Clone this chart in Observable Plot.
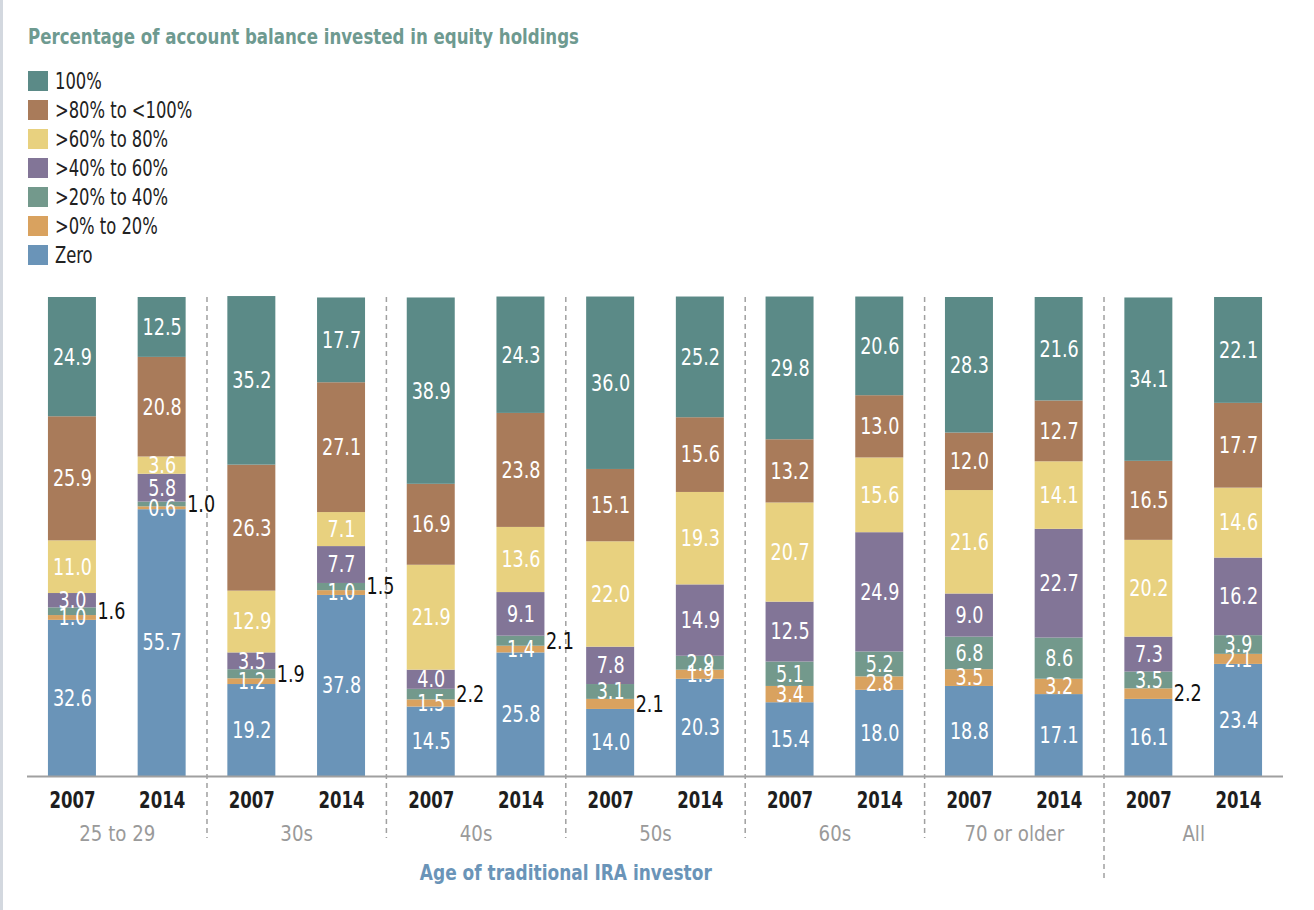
<!DOCTYPE html>
<html><head><meta charset="utf-8">
<script src="https://cdn.jsdelivr.net/npm/d3@7"></script>
<script src="https://cdn.jsdelivr.net/npm/@observablehq/plot@0.6"></script>
<style>
html,body{margin:0;padding:0;background:#fff;}
body{width:1314px;height:910px;position:relative;overflow:hidden;font-family:"DejaVu Sans Condensed","DejaVu Sans",sans-serif;}
#edge{position:absolute;left:0;top:0;width:3px;height:910px;background:#d3d8df;}
#title{position:absolute;left:28px;top:26px;font-size:21px;font-weight:bold;color:#6e9a90;line-height:22px;white-space:nowrap;transform:scaleX(0.88);transform-origin:0 50%;}
#legend{position:absolute;left:28px;top:71px;}
.row{display:flex;align-items:center;height:20px;margin-bottom:9px;}
.sw{width:20px;height:20px;margin-right:7px;flex:none;}
.lab{font-size:23px;color:#222;line-height:20px;white-space:nowrap;display:inline-block;transform:scaleX(0.79);transform-origin:0 50%;}
#chart{position:absolute;left:0;top:270px;}
</style></head>
<body>
<div id="edge"></div>
<div id="title">Percentage of account balance invested in equity holdings</div>
<div id="legend"></div>
<div id="chart"></div>
<script>
const groups = ["25 to 29", "30s", "40s", "50s", "60s", "70 or older", "All"];
const years = ["2007", "2014"];
const categories = ["Zero", ">0% to 20%", ">20% to 40%", ">40% to 60%", ">60% to 80%", ">80% to <100%", "100%"];
const colors = ["#6a94b8", "#d9a25f", "#73998c", "#827597", "#e8d17f", "#a97b5a", "#5b8a87"];

// values per bar: 25-29 07, 25-29 14, 30s 07, 30s 14, 40s 07, 40s 14, 50s 07, 50s 14, 60s 07, 60s 14, 70+ 07, 70+ 14, All 07, All 14
const zero     = [32.6, 55.7, 19.2, 37.8, 14.5, 25.8, 14.0, 20.3, 15.4, 18.0, 18.8, 17.1, 16.1, 23.4];
const p0to20   = [1.0, 0.6, 1.2, 1.0, 1.5, 1.4, 2.1, 1.9, 3.4, 2.8, 3.5, 3.2, 2.2, 2.1];
const p20to40  = [1.6, 1.0, 1.9, 1.5, 2.2, 2.1, 3.1, 2.9, 5.1, 5.2, 6.8, 8.6, 3.5, 3.9];
const p40to60  = [3.0, 5.8, 3.5, 7.7, 4.0, 9.1, 7.8, 14.9, 12.5, 24.9, 9.0, 22.7, 7.3, 16.2];
const p60to80  = [11.0, 3.6, 12.9, 7.1, 21.9, 13.6, 22.0, 19.3, 20.7, 15.6, 21.6, 14.1, 20.2, 14.6];
const p80to100 = [25.9, 20.8, 26.3, 27.1, 16.9, 23.8, 15.1, 15.6, 13.2, 13.0, 12.0, 12.7, 16.5, 17.7];
const p100     = [24.9, 12.5, 35.2, 17.7, 38.9, 24.3, 36.0, 25.2, 29.8, 20.6, 28.3, 21.6, 34.1, 22.1];
// which segment's label sits outside the bar (null = none)
const outsideLabel = [">20% to 40%", ">20% to 40%", ">20% to 40%", ">20% to 40%", ">20% to 40%", ">20% to 40%",
  ">0% to 20%", null, null, null, null, null, ">0% to 20%", null];
const axisTitle = "Age of traditional IRA investor";

const series = [zero, p0to20, p20to40, p40to60, p60to80, p80to100, p100];
const keys = groups.flatMap(g => years.map(y => g + "|" + y));

const table = [];
keys.forEach((key, i) => {
  let acc = 0;
  categories.forEach((cat, j) => {
    const v = series[j][i];
    table.push({key, cat, value: v, y1: acc, y2: acc + v, mid: acc + v / 2,
      outside: outsideLabel[i] === cat, label: v.toFixed(1)});
    acc += v;
  });
});

// legend
const legend = document.getElementById("legend");
categories.slice().reverse().forEach(cat => {
  const row = document.createElement("div"); row.className = "row";
  const sw = document.createElement("div"); sw.className = "sw";
  sw.style.background = colors[categories.indexOf(cat)];
  const lab = document.createElement("div"); lab.className = "lab"; lab.textContent = cat;
  row.append(sw, lab); legend.append(row);
});

const W = 1314, H = 640, mL = 27, mR = 31, mT = 27, mB = 134;
const pIn = 0.465, pOut = 0.2335;
const step = (W - mL - mR) / (keys.length - pIn + 2 * pOut);
const bw = step * (1 - pIn);
const font = '"DejaVu Sans Condensed","DejaVu Sans",sans-serif';

const sepKeys = groups.slice(0, 5).map(g => g + "|2014");
const lastSep = [groups[5] + "|2014"];

const chart = Plot.plot({
  width: W, height: H,
  marginTop: mT, marginBottom: mB, marginLeft: mL, marginRight: mR,
  style: {fontFamily: font, background: "transparent", overflow: "visible"},
  x: {domain: keys, paddingInner: pIn, paddingOuter: pOut, round: false, axis: null},
  y: {domain: [0, 100], axis: null},
  color: {domain: categories, range: colors},
  marks: [
    Plot.ruleX(sepKeys, {x: d => d, dx: step / 2, stroke: "#a0a0a0", strokeWidth: 1.5, strokeDasharray: "5,4", insetBottom: -62}),
    Plot.ruleX(lastSep, {x: d => d, dx: step / 2, stroke: "#a0a0a0", strokeWidth: 1.5, strokeDasharray: "5,4", insetBottom: -104}),
    Plot.barY(table, {x: "key", y1: "y1", y2: "y2", fill: "cat"}),
    Plot.ruleY([0], {stroke: "#a0a0a0", strokeWidth: 2}),
    Plot.text(table.filter(d => !d.outside), {x: "key", y: "mid", text: "label", fill: "white", fontSize: 23}),
    Plot.text(table.filter(d => d.outside), {x: "key", y: "mid", text: "label", fill: "#111", fontSize: 23, textAnchor: "start", dx: bw / 2 + 1}),
    Plot.text(keys, {x: d => d, text: d => d.split("|")[1], frameAnchor: "bottom", dy: 31, fontSize: 23, fontWeight: "bold", fill: "#1e1e1e"}),
    Plot.text(groups, {x: g => g + "|2007", text: g => g, dx: step / 2, frameAnchor: "bottom", dy: 64, fontSize: 22, fill: "#9a9a9a"}),
    Plot.text([axisTitle], {x: () => groups[2] + "|2014", text: d => d, dx: step / 2, frameAnchor: "bottom", dy: 103, fontSize: 21, fontWeight: "bold", fill: "#6a94b8"})
  ]
});
document.getElementById("chart").append(chart);

// narrow the glyphs to mimic the reference's condensed typeface (scale about each text's anchor)
const squeeze = [0.85, 0.85, 0.8, 0.92, 0.9];
const textGroups = chart.querySelectorAll('g[aria-label="text"]');
textGroups.forEach((g, gi) => {
  const s = squeeze[gi] ?? 1;
  g.querySelectorAll("text").forEach(t => {
    const tr = t.getAttribute("transform") || "";
    const xa = t.getAttribute("x");
    if (xa !== null && !isNaN(+xa)) {
      t.removeAttribute("x");
      t.setAttribute("transform", `${tr} translate(${+xa},0) scale(${s},1)`);
    } else {
      t.setAttribute("transform", `${tr} scale(${s},1)`);
    }
  });
});
</script>
</body></html>
